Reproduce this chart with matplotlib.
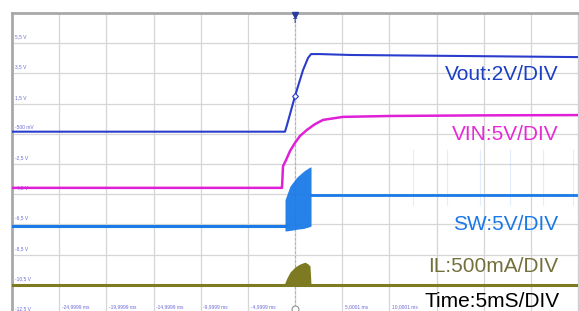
import numpy as np
import matplotlib
matplotlib.use('Agg')
import matplotlib.pyplot as plt

plt.rcParams['font.family'] = ['Liberation Sans', 'DejaVu Sans']

# time axis: 5 ms/div, 12 divisions, trigger at 0
# levels are in screen divisions (top gridline = 10)
vout_t = [-30, -1.06, -0.85, 0, 0.85, 1.38, 1.70, 2.65, 5.83, 16.4, 30]
vout_y = [6.07, 6.07, 6.29, 7.25, 8.11, 8.51, 8.64, 8.64, 8.61, 8.58, 8.54]

vin_t = [-30, -1.48, -1.38, -1.27, -0.95, -0.53, 0, 0.53, 1.27, 2.12, 2.97, 5.09, 10.07, 19.6, 30]
vin_y = [4.21, 4.21, 4.21, 4.93, 5.13, 5.43, 5.70, 5.93, 6.13, 6.32, 6.46, 6.56, 6.59, 6.61, 6.62]

sw_base = 2.95
sw_high = 3.97
burst_t = [-1.06, -0.53, 0.21, 0.95, 1.59, 1.70]
burst_top = [3.81, 4.27, 4.57, 4.77, 4.90, 4.90]
burst_bot = [2.78, 2.80, 2.84, 2.87, 2.93, 2.95]
spike_t = [12.5, 16.1, 19.6, 22.8, 26.3, 29.5]

il_base = 0.99
il_t = [-1.17, -0.85, -0.53, 0, 0.53, 1.06, 1.38, 1.59, 1.70]
il_y = [0.99, 1.23, 1.42, 1.59, 1.69, 1.75, 1.69, 1.62, 0.99]

ylabels = ['5,5 V', '3,5 V', '1,5 V', '-500 mV', '-2,5 V', '-4,5 V', '-6,5 V', '-8,5 V', '-10,5 V', '-12,5 V']
xlabels = ['-24,9999 ms', '-19,9999 ms', '-14,9999 ms', '-9,9999 ms', '-4,9999 ms', '',
           '5,0001 ms', '10,0001 ms']

c_vout = '#2a3ccc'
c_vin = '#e020d8'
c_sw = '#1a7ae8'
c_il = '#7d7a22'

fig = plt.figure(figsize=(5.79, 3.11), dpi=100)
ax = fig.add_axes([12/579, 0, 566/579, 298/311])
ax.set_xlim(-30, 30)
ax.set_ylim(10 - 298/30.2, 10)

# grid
for k in range(1, 12):
    ax.axvline(-30 + 5*k, color='#d6d6d6', lw=0.9, zorder=0)
for k in range(0, 10):
    ax.axhline(k, color='#d6d6d6', lw=0.9, zorder=0)
ax.axvline(0, color='#b0b0b0', lw=0.8, ls=(0, (2, 2)), zorder=0)

for s in ['top', 'left']:
    ax.spines[s].set_color('#a8a8a8')
    ax.spines[s].set_linewidth(2)
ax.spines['right'].set_color('#cfcfcf')
ax.spines['right'].set_linewidth(1)
ax.spines['bottom'].set_visible(False)
ax.set_xticks([])
ax.set_yticks([])

# channel labels along the left and time labels along the bottom
for i, lab in enumerate(ylabels):
    ax.text(-29.7, 9 - i + 0.12, lab, fontsize=3.5, color='#6a6ad8', va='bottom', ha='left')
for i, lab in enumerate(xlabels):
    ax.text(-25 + 5*i + 0.3, 0.18, lab, fontsize=3.5, color='#6a6ad8', va='bottom', ha='left')

# traces
ax.plot(vout_t, vout_y, color=c_vout, lw=1.5, zorder=4)
ax.plot([0], [7.25], marker='D', ms=3, mfc='white', mec=c_vout, mew=0.8, zorder=5)

ax.plot(vin_t, vin_y, color=c_vin, lw=1.8, zorder=3)

ax.plot([-30, burst_t[0]], [sw_base, sw_base], color=c_sw, lw=2.2, zorder=3)
ax.fill_between(burst_t, burst_bot, burst_top, color=c_sw, lw=0, alpha=0.95, zorder=3)
ax.plot([burst_t[-1], 30], [sw_high, sw_high], color=c_sw, lw=2.0, zorder=3)
for t in spike_t:
    ax.plot([t, t], [3.64, 5.46], color=c_sw, lw=0.8, alpha=0.12, zorder=2)

ax.plot([-30, 30], [il_base, il_base], color=c_il, lw=2.2, zorder=3)
ax.fill_between(il_t, il_base, il_y, color=c_il, lw=0, zorder=3)

# trigger marks
ax.plot([0], [9.93], marker='v', ms=5, color='#2a3c9c', clip_on=False, zorder=6)
ax.text(0, 9.72, 'T', fontsize=5, color='#2a3c9c', ha='center', va='center', fontweight='bold')
ax.plot([0], [0.2], marker='o', ms=5, mfc='white', mec='#909090', mew=0.8, clip_on=False, zorder=6)

# scale annotations
ax.text(27.9, 7.98, 'Vout:2V/DIV', fontsize=15, color='#1b3fc4', ha='right', va='center')
ax.text(27.9, 5.99, 'VIN:5V/DIV', fontsize=15, color='#e62ad6', ha='right', va='center')
ax.text(27.9, 3.01, 'SW:5V/DIV', fontsize=15, color='#1a78e8', ha='right', va='center')
ax.text(27.9, 1.59, 'IL:500mA/DIV', fontsize=15, color='#74703c', ha='right', va='center')
ax.text(28.0, 0.46, 'Time:5mS/DIV', fontsize=15, color='black', ha='right', va='center', zorder=7)

fig.savefig('out.png', dpi=100)
